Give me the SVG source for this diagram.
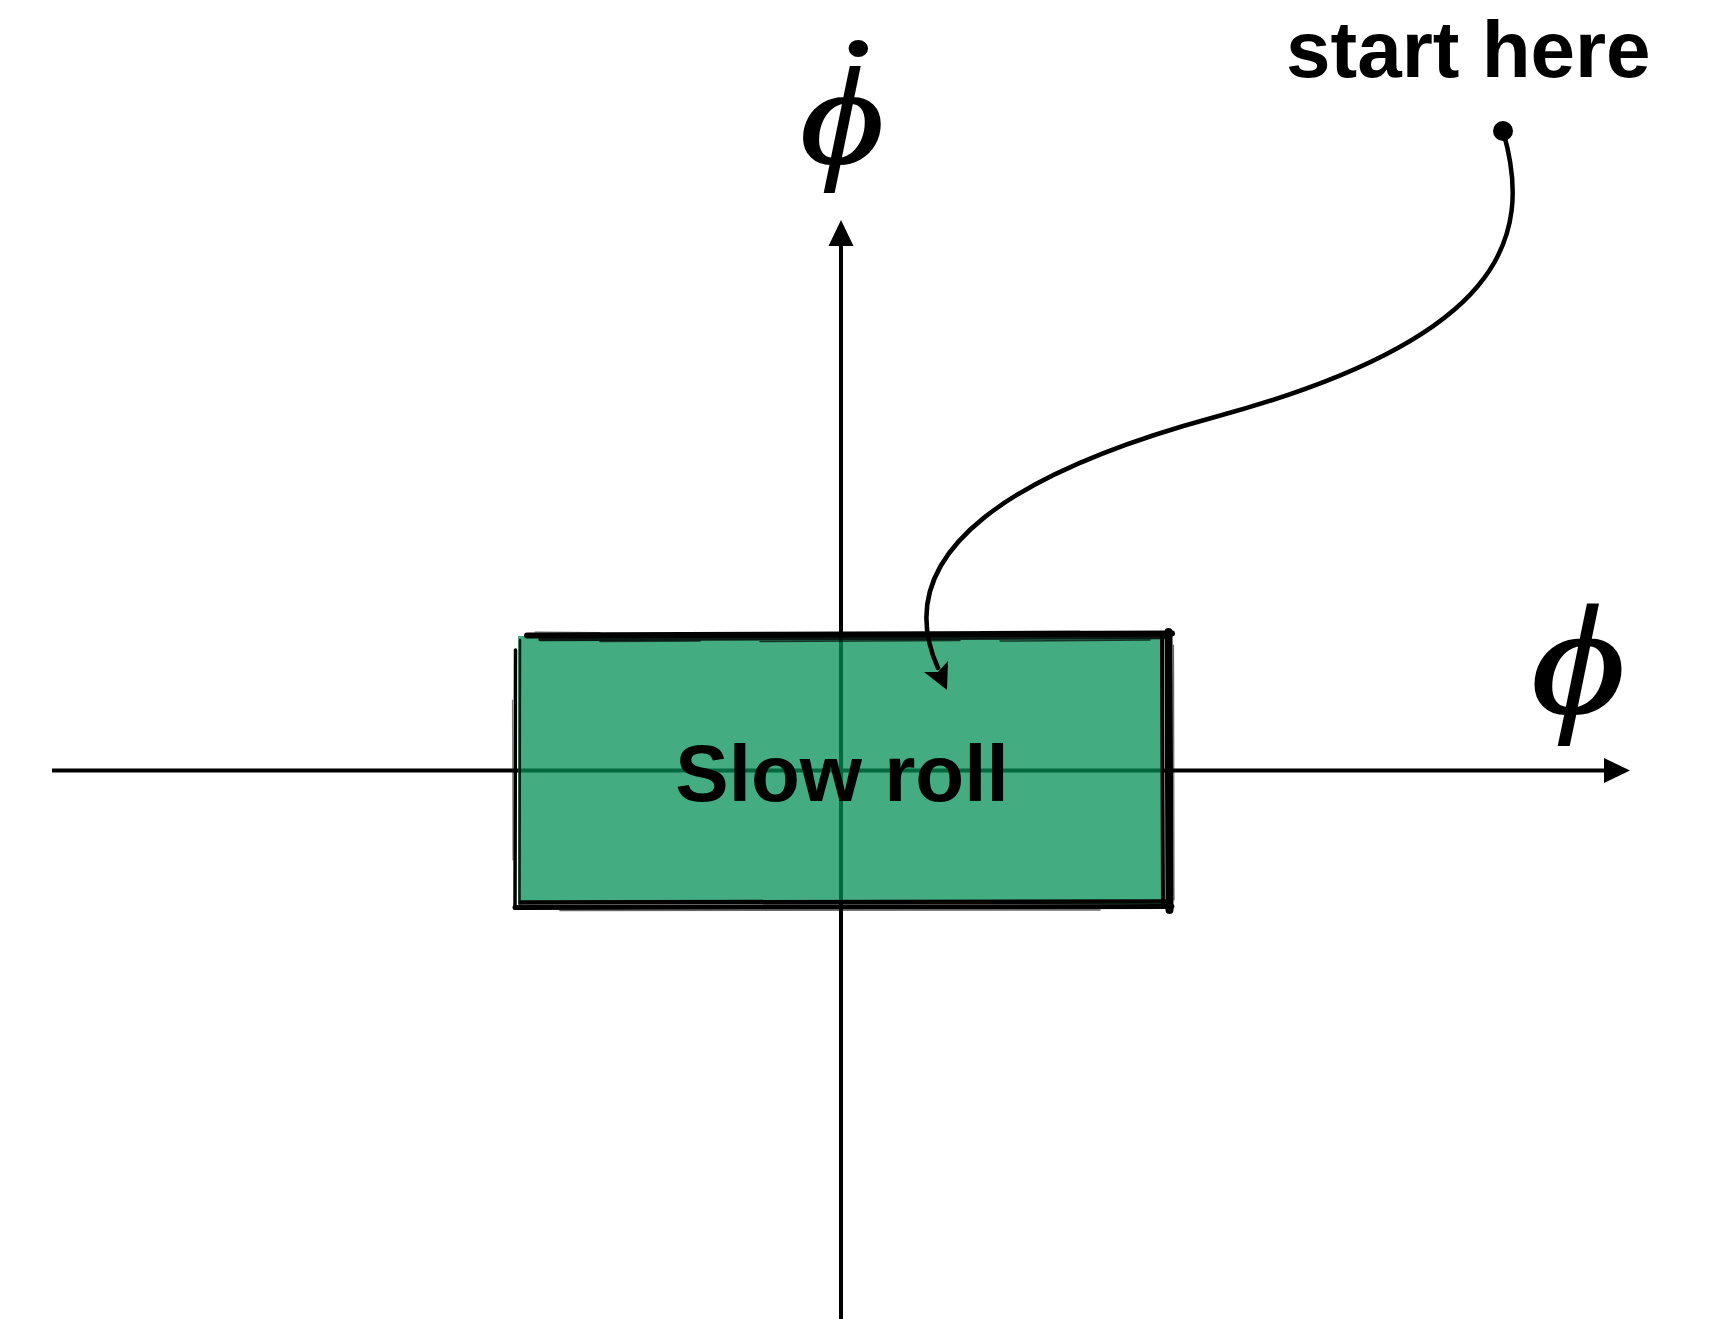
<svg xmlns="http://www.w3.org/2000/svg" width="1716" height="1319" viewBox="0 0 1716 1319">
  <style>
    .axis { stroke: #000; stroke-width: 4; fill: none; }
    .head { fill: #000; stroke: none; }
    .sym { font-family: "Liberation Serif", "DejaVu Serif", serif; font-style: italic; fill: #000; stroke: #000; stroke-width: 2; }
    .lbl { font-family: "Liberation Sans", Arial, sans-serif; font-weight: bold; fill: #000; }
    .sketch { stroke: #000; fill: none; stroke-linecap: round; }
    .trail { stroke: #000; stroke-width: 4.5; fill: none; stroke-linecap: round; }
  </style>

  <!-- phase-space axes -->
  <g id="axes">
    <line class="axis" x1="52" y1="770.5" x2="1610" y2="770.5"/>
    <polygon class="head" points="1630,770.5 1604,758 1604,783"/>
    <line class="axis" x1="841" y1="240" x2="841" y2="1319"/>
    <polygon class="head" points="841,220 828.5,246 853.5,246"/>
  </g>

  <!-- axis labels -->
  <g id="label-phidot">
    <text class="sym" x="842" y="163" font-size="138" text-anchor="middle" transform="translate(842,0) scale(1.16,1) translate(-842,0)">ϕ<tspan x="856" y="69" font-size="62" font-family="Liberation Sans, sans-serif" font-style="normal" stroke="none">•</tspan></text>
  </g>
  <g id="label-phi">
    <text class="sym" x="1578" y="712" font-size="155" text-anchor="middle" transform="translate(1578,0) scale(1.16,1) translate(-1578,0)">ϕ</text>
  </g>

  <!-- slow-roll region: translucent fill with a hand-drawn border -->
  <g id="slow-roll">
    <rect x="518" y="636" width="646" height="268" fill="rgb(0,142,83)" fill-opacity="0.737"/>
    <g class="sketch">
      <!-- top edge -->
      <path d="M527,635.5 L1172,633.5" stroke-width="6"/>
      <path d="M540,639.5 L1165,637.5" stroke-width="3.5" stroke-opacity="0.85"/>
      <path d="M600,641.5 L700,641 M760,641.5 L960,640.5 M1000,641 L1150,640" stroke-width="1.5" stroke-opacity="0.7"/>
      <path d="M535,632 L600,632.5 M980,631.5 L1080,631" stroke-width="1.2" stroke-opacity="0.6"/>
      <!-- right edge -->
      <path d="M1168.5,632 L1169.5,910" stroke-width="8"/>
      <path d="M1162,638 L1163,906" stroke-width="4"/>
      <path d="M1173.5,645 L1174,900" stroke-width="1.2" stroke-opacity="0.6"/>
      <!-- bottom edge -->
      <path d="M515,907.5 L1172,906.5" stroke-width="5"/>
      <path d="M521,902.5 L1168,901.5" stroke-width="4.5"/>
      <path d="M560,910.5 L1100,910" stroke-width="1.5" stroke-opacity="0.6"/>
      <!-- left edge -->
      <path d="M515.5,650 L515,908" stroke-width="3.5"/>
      <path d="M520,640 L519.5,904" stroke-width="2.5" stroke-opacity="0.85"/>
      <path d="M512.5,700 L513,860" stroke-width="1.2" stroke-opacity="0.5"/>
    </g>
    <text class="lbl" x="842" y="801" font-size="80" text-anchor="middle">Slow roll</text>
  </g>

  <!-- start marker -->
  <g id="start">
    <text class="lbl" x="1286" y="77" font-size="80">start here</text>
    <circle cx="1503" cy="131" r="10" fill="#000"/>
  </g>

  <!-- trajectory from the start point into the slow-roll region -->
  <g id="connectors">
    <path class="trail" d="M1503,131 C1535,240 1500,340 1215,417 C1020,470 885,550 938,668"/>
    <polygon class="head" points="947,690 924,672 938,672 948,661"/>
  </g>
</svg>
